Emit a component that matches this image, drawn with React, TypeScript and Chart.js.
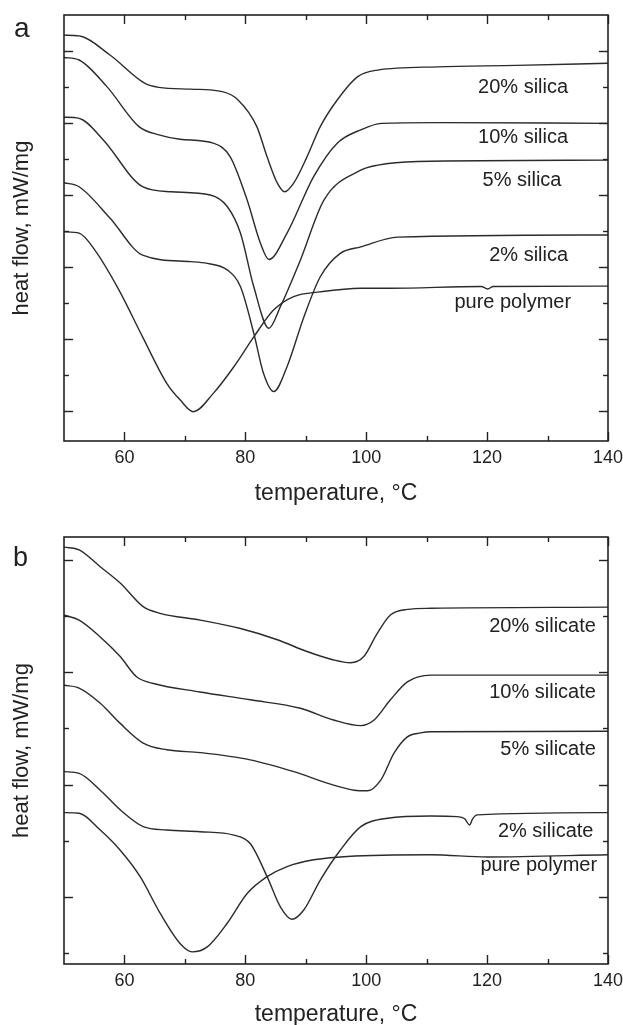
import React, { useEffect, useRef } from 'react';
import { Chart, registerables } from 'chart.js';

Chart.register(...registerables);

// ---------- shared axis data ----------
const xMajorTicks = [60, 80, 100, 120, 140];
const xMinorTicks = [70, 90, 110, 130];

// ---------- panel a (silica) ----------
const aTicksMajor = [0, 2, 4, 6, 8, 10];
const aTicksMinor = [1, 3, 5, 7, 9];

const a20T = [50, 52.5, 57.6, 63.4, 65.7, 71.0, 76.2, 78.8, 81.9, 83.6, 85.3, 86.5, 88.0, 90.2, 92.4, 95.2, 98.6, 101.9, 111.8, 124.9, 140];
const a20H = [10.44, 10.42, 9.89, 9.10, 8.99, 8.94, 8.87, 8.64, 7.90, 7.06, 6.33, 6.09, 6.33, 7.06, 7.90, 8.64, 9.29, 9.47, 9.56, 9.60, 9.66];

const a10T = [50, 52.5, 57.1, 62.4, 65.7, 69.2, 74.7, 77.5, 80.3, 82.5, 83.9, 86.9, 91.3, 95.2, 99.1, 102.5, 111.8, 140];
const a10H = [9.82, 9.75, 9.01, 7.90, 7.67, 7.55, 7.44, 7.06, 5.86, 4.66, 4.21, 4.94, 6.51, 7.44, 7.81, 7.99, 8.01, 7.99];

const a5T = [50, 52.5, 56.5, 63.0, 67.7, 74.2, 77.0, 79.2, 81.4, 83.9, 85.8, 89.1, 93.0, 99.1, 101.9, 108.5, 140];
const a5H = [8.16, 8.13, 7.53, 6.23, 6.09, 6.0, 5.68, 4.94, 3.45, 2.30, 2.90, 4.19, 5.86, 6.69, 6.83, 6.93, 6.97];

const a2T = [50, 52.5, 57.6, 63.0, 70.9, 73.7, 77.0, 79.2, 81.4, 83.0, 84.7, 86.9, 89.7, 92.4, 95.7, 99.1, 105.2, 140];
const a2H = [6.34, 6.23, 5.36, 4.33, 4.15, 4.10, 3.92, 3.45, 2.16, 1.05, 0.54, 1.23, 2.62, 3.73, 4.38, 4.56, 4.83, 4.89];

const aPureT = [50, 52.5, 55.1, 59.1, 63.0, 67.0, 69.2, 71.4, 74.7, 78.1, 81.4, 84.7, 88.0, 92.4, 99.1, 103.9, 119.0, 120.1, 121.0, 140];
const aPureH = [4.98, 4.94, 4.47, 3.36, 2.06, 0.77, 0.31, -0.02, 0.49, 1.23, 2.06, 2.81, 3.18, 3.31, 3.41, 3.41, 3.46, 3.39, 3.46, 3.47];

const aLabelText = ['20% silica', '10% silica', '5% silica', '2% silica', 'pure polymer'];
const aLabelT = [133.4, 133.4, 132.3, 133.4, 133.9];
const aLabelH = [9.0, 7.61, 6.39, 4.33, 3.01];

// ---------- panel b (silicate) ----------
const bTicksMajor = [1, 3, 5, 7];
const bTicksMinor = [0, 2, 4, 6];

const b20T = [50, 52.5, 56.0, 59.3, 63.1, 65.9, 72.5, 79.2, 85.3, 90.2, 94.6, 97.4, 99.6, 101.8, 104.0, 106.8, 110.7, 140];
const b20H = [7.23, 7.18, 6.88, 6.59, 6.17, 6.05, 5.93, 5.78, 5.58, 5.37, 5.22, 5.17, 5.28, 5.69, 6.02, 6.12, 6.14, 6.16];

const b10T = [50, 52.5, 56.0, 59.3, 62.0, 64.8, 72.5, 80.8, 89.1, 94.6, 99.1, 101.3, 104.0, 106.8, 110.7, 140];
const b10H = [6.02, 5.93, 5.63, 5.28, 4.92, 4.80, 4.65, 4.51, 4.36, 4.15, 4.05, 4.15, 4.51, 4.83, 4.95, 4.95];

const b5T = [50, 52.5, 56.0, 59.3, 63.1, 67.0, 72.5, 80.8, 88.0, 94.6, 98.0, 100.2, 102.4, 104.6, 106.8, 109.0, 110.7, 140];
const b5H = [4.77, 4.72, 4.45, 4.09, 3.74, 3.62, 3.57, 3.44, 3.23, 2.99, 2.90, 2.89, 3.08, 3.56, 3.85, 3.92, 3.94, 3.95];

const b2T = [50, 52.5, 56.0, 59.3, 63.1, 67.0, 72.5, 78.1, 80.8, 83.6, 85.8, 87.7, 89.7, 92.4, 95.7, 99.1, 103.5, 110.7, 115.1, 116.3, 117.1, 117.6, 118.4, 140];
const b2H = [3.23, 3.20, 2.90, 2.55, 2.25, 2.19, 2.16, 2.10, 1.95, 1.36, 0.82, 0.60, 0.77, 1.30, 1.83, 2.25, 2.40, 2.44, 2.43, 2.39, 2.28, 2.39, 2.46, 2.50];

const bPureT = [50, 52.5, 56.0, 59.3, 62.6, 65.9, 69.2, 71.2, 73.7, 77.0, 80.3, 83.6, 86.9, 91.3, 96.9, 110.7, 120.1, 140];
const bPureH = [2.50, 2.49, 2.19, 1.83, 1.36, 0.71, 0.17, 0.02, 0.11, 0.53, 1.06, 1.36, 1.54, 1.66, 1.72, 1.75, 1.71, 1.75];

const bLabelText = ['20% silicate', '10% silicate', '5% silicate', '2% silicate', 'pure polymer'];
const bLabelT = [138.0, 138.0, 138.0, 137.6, 138.2];
const bLabelH = [5.82, 4.64, 3.63, 2.16, 1.55];

const FONT = "'Liberation Sans', Arial, Helvetica, sans-serif";
const INK = '#222';

function toPoints(t: number[], h: number[]) {
  return t.map((v, i) => ({ x: v, y: h[i] }));
}

type PanelProps = {
  top: number;
  height: number;
  padTop: number;
  xAxisHeight: number;
  yMin: number;
  yMax: number;
  yMajor: number[];
  yMinor: number[];
  series: { t: number[]; h: number[] }[];
  labels: { text: string; t: number; h: number }[];
  letter: string;
  letterX: number;
  letterY: number;
  letterSize: number;
  xTickPad: number;
  xTitlePad: number;
};

function Panel(p: PanelProps) {
  const ref = useRef<HTMLCanvasElement | null>(null);
  useEffect(() => {
    if (!ref.current) return;
    const deco = {
      id: 'deco_' + p.letter,
      afterDatasetsDraw(chart: any) {
        const { ctx, chartArea } = chart;
        const { left, right, top, bottom } = chartArea;
        const xs = chart.scales.x;
        const ys = chart.scales.y;
        ctx.save();
        ctx.strokeStyle = INK;
        ctx.lineWidth = 1.6;
        ctx.strokeRect(left, top, right - left, bottom - top);
        const seg = (x1: number, y1: number, x2: number, y2: number) => {
          ctx.beginPath();
          ctx.moveTo(x1, y1);
          ctx.lineTo(x2, y2);
          ctx.stroke();
        };
        ctx.lineWidth = 1.4;
        const xt = (vals: number[], len: number) =>
          vals.forEach((v) => {
            const px = Math.round(xs.getPixelForValue(v)) + 0.5;
            seg(px, bottom, px, bottom - len);
            seg(px, top, px, top + len);
          });
        const yt = (vals: number[], len: number) =>
          vals.forEach((v) => {
            const py = Math.round(ys.getPixelForValue(v)) + 0.5;
            seg(left, py, left + len, py);
            seg(right, py, right - len, py);
          });
        xt(xMajorTicks, 9);
        xt(xMinorTicks, 5);
        yt(p.yMajor, 9);
        yt(p.yMinor, 5);
        // series labels
        ctx.fillStyle = INK;
        ctx.font = `20px ${FONT}`;
        ctx.textAlign = 'right';
        ctx.textBaseline = 'middle';
        p.labels.forEach((l) => {
          ctx.fillText(l.text, xs.getPixelForValue(l.t), ys.getPixelForValue(l.h));
        });
        // panel letter
        ctx.textAlign = 'left';
        ctx.textBaseline = 'alphabetic';
        ctx.font = `${p.letterSize}px ${FONT}`;
        ctx.fillText(p.letter, p.letterX, p.letterY);
        ctx.restore();
      },
    };

    const chart = new Chart(ref.current, {
      type: 'line',
      data: {
        datasets: p.series.map((s) => ({
          data: toPoints(s.t, s.h),
          borderColor: '#2b2b2b',
          borderWidth: 1.4,
          pointRadius: 0,
          fill: false,
          cubicInterpolationMode: 'monotone' as const,
        })),
      },
      options: {
        responsive: false,
        animation: false,
        events: [],
        layout: { padding: { top: p.padTop, right: 15, left: 0, bottom: 0 } },
        plugins: { legend: { display: false }, tooltip: { enabled: false } },
        scales: {
          x: {
            type: 'linear',
            min: 50,
            max: 140,
            grid: { display: false, drawTicks: false },
            border: { display: false },
            afterBuildTicks: (s: any) => {
              s.ticks = xMajorTicks.map((v) => ({ value: v }));
            },
            afterFit: (s: any) => {
              s.height = p.xAxisHeight;
              s.paddingLeft = 0;
              s.paddingRight = 0;
            },
            ticks: {
              color: INK,
              font: { family: FONT, size: 18 },
              padding: p.xTickPad,
              maxRotation: 0,
              autoSkip: false,
              callback: (v: any) => String(v),
            },
            title: {
              display: true,
              text: 'temperature, °C',
              color: INK,
              font: { family: FONT, size: 23 },
              padding: { top: 0, bottom: p.xTitlePad },
            },
          },
          y: {
            type: 'linear',
            min: p.yMin,
            max: p.yMax,
            grid: { display: false, drawTicks: false },
            border: { display: false },
            ticks: { display: false },
            afterFit: (s: any) => {
              s.width = 64;
              s.paddingTop = 0;
              s.paddingBottom = 0;
            },
            title: {
              display: true,
              text: 'heat flow, mW/mg',
              color: INK,
              font: { family: FONT, size: 22 },
              padding: { top: 9, bottom: 0 },
            },
          },
        },
      },
      plugins: [deco],
    } as any);
    return () => chart.destroy();
  }, []);
  return (
    <canvas
      ref={ref}
      width={623}
      height={p.height}
      style={{ position: 'absolute', left: 0, top: p.top, display: 'block' }}
    />
  );
}

export default function App() {
  const aSeries = [
    { t: a20T, h: a20H },
    { t: a10T, h: a10H },
    { t: a5T, h: a5H },
    { t: a2T, h: a2H },
    { t: aPureT, h: aPureH },
  ];
  const bSeries = [
    { t: b20T, h: b20H },
    { t: b10T, h: b10H },
    { t: b5T, h: b5H },
    { t: b2T, h: b2H },
    { t: bPureT, h: bPureH },
  ];
  const aLabels = aLabelText.map((text, i) => ({ text, t: aLabelT[i], h: aLabelH[i] }));
  const bLabels = bLabelText.map((text, i) => ({ text, t: bLabelT[i], h: bLabelH[i] }));
  return (
    <div
      style={{
        position: 'absolute',
        left: 0,
        top: 0,
        width: 623,
        height: 1025,
        overflow: 'hidden',
        background: '#fff',
      }}
    >
      <Panel
        top={0}
        height={510}
        padTop={15}
        xAxisHeight={69}
        yMin={-0.833}
        yMax={11}
        yMajor={aTicksMajor}
        yMinor={aTicksMinor}
        series={aSeries}
        labels={aLabels}
        letter="a"
        letterX={14}
        letterY={37}
        letterSize={28}
        xTickPad={6}
        xTitlePad={3}
      />
      <Panel
        top={510}
        height={518}
        padTop={27}
        xAxisHeight={64}
        yMin={-0.196}
        yMax={7.41}
        yMajor={bTicksMajor}
        yMinor={bTicksMinor}
        series={bSeries}
        labels={bLabels}
        letter="b"
        letterX={13}
        letterY={56}
        letterSize={27}
        xTickPad={6}
        xTitlePad={0}
      />
    </div>
  );
}
